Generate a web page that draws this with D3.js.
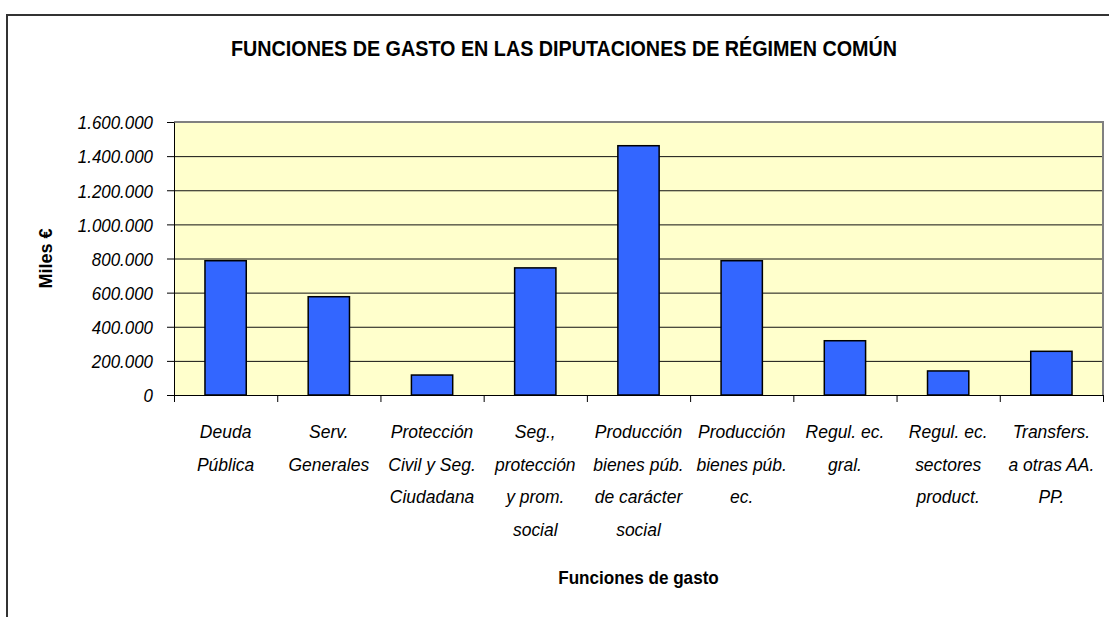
<!DOCTYPE html>
<html>
<head>
<meta charset="utf-8">
<script src="https://cdn.jsdelivr.net/npm/d3@7"></script>
<style>
  body { margin: 0; background: #fff; }
  svg { display: block; font-family: "Liberation Sans", Arial, sans-serif; }
</style>
</head>
<body>
<div id="chart"></div>
<script>
// data (miles de euros)
var categories = ["Deuda Pública", "Serv. Generales", "Protección Civil y Seg. Ciudadana",
    "Seg., protección y prom. social", "Producción bienes púb. de carácter social",
    "Producción bienes púb. ec.", "Regul. ec. gral.", "Regul. ec. sectores product.",
    "Transfers. a otras AA. PP."];
var labelLines = [["Deuda", "Pública"], ["Serv.", "Generales"], ["Protección", "Civil y Seg.", "Ciudadana"],
    ["Seg.,", "protección", "y prom.", "social"], ["Producción", "bienes púb.", "de carácter", "social"],
    ["Producción", "bienes púb.", "ec."], ["Regul. ec.", "gral."], ["Regul. ec.", "sectores", "product."],
    ["Transfers.", "a otras AA.", "PP."]];
var values = [787000, 576000, 117000, 745000, 1461000, 787000, 318000, 141000, 256000];
var yTicks = [0, 200000, 400000, 600000, 800000, 1000000, 1200000, 1400000, 1600000];

var title = "FUNCIONES DE GASTO EN LAS DIPUTACIONES DE RÉGIMEN COMÚN";
var xTitle = "Funciones de gasto";
var yTitle = "Miles €";

var W = 1109, H = 617;
var margin = {top: 122, right: 6, bottom: 222, left: 174},
    width = W - margin.left - margin.right,
    height = H - margin.top - margin.bottom;

// the original text is narrow and tall: squeeze glyphs sideways
function condense(sel, f) {
    sel.each(function() {
        var w = this.getComputedTextLength();
        d3.select(this).attr("textLength", w * f).attr("lengthAdjust", "spacingAndGlyphs");
    });
}

var svg = d3.select("#chart").append("svg")
    .attr("width", W)
    .attr("height", H);

// outer chart border (right and bottom run off the picture)
svg.append("rect")
    .attr("x", 7).attr("y", 15)
    .attr("width", W + 20).attr("height", H + 20)
    .attr("fill", "#fff")
    .attr("stroke", "#333")
    .attr("stroke-width", 2);

var es = d3.formatLocale({decimal: ",", thousands: ".", grouping: [3], currency: ["", " €"]});
var fmt = es.format(",d");

var x = d3.scaleBand()
    .domain(categories)
    .range([0, width])
    .paddingInner(0.6)
    .paddingOuter(0.3);

var xEdge = d3.scaleLinear().domain([0, categories.length]).range([0, width]);

var y = d3.scaleLinear()
    .domain([0, 1600000])
    .range([height, 0]);

var g = svg.append("g")
    .attr("transform", "translate(" + margin.left + "," + margin.top + ")");

// plot background
g.append("rect")
    .attr("width", width)
    .attr("height", height)
    .attr("fill", "#ffffcc");

// gridlines
g.append("g")
    .call(d3.axisLeft(y).tickValues(yTicks.slice(1, -1)).tickSize(-width).tickFormat(""))
    .call(function(s) { s.select(".domain").remove(); })
    .selectAll("line")
        .attr("stroke", "#111")
        .attr("stroke-width", 1);

// plot area frame: top and right in gray
g.append("path")
    .attr("d", "M0,0H" + width + "V" + height)
    .attr("fill", "none")
    .attr("stroke", "#808080")
    .attr("stroke-width", 2);

// bars
g.selectAll(".bar")
    .data(values)
    .enter()
    .append("rect")
        .attr("class", "bar")
        .attr("x", function(d, i) { return x(categories[i]); })
        .attr("width", x.bandwidth())
        .attr("y", function(d) { return y(d); })
        .attr("height", function(d) { return height - y(d); })
        .attr("fill", "#3366ff")
        .attr("stroke", "#000")
        .attr("stroke-width", 1.5);

// y axis
var yAxis = g.append("g")
    .call(d3.axisLeft(y).tickValues(yTicks).tickSize(7).tickSizeOuter(0).tickPadding(14).tickFormat(fmt));
yAxis.select(".domain").attr("stroke", "#000");
yAxis.selectAll("line").attr("stroke", "#000");
yAxis.selectAll("text")
    .attr("font-size", "19px")
    .attr("font-style", "italic")
    .attr("fill", "#000")
    .attr("dy", "0.36em")
    .attr("font-family", "Liberation Sans, Arial, sans-serif")
    .call(condense, 0.89);

// x axis: ticks between categories
var xAxis = g.append("g")
    .attr("transform", "translate(0," + height + ")")
    .call(d3.axisBottom(xEdge).tickValues(d3.range(categories.length + 1)).tickSize(7).tickSizeOuter(0).tickFormat(""));
xAxis.select(".domain").attr("stroke", "#000");
xAxis.selectAll("line").attr("stroke", "#000");

// category labels, one text per line
var lbl = g.append("g")
    .attr("font-size", "19px")
    .attr("font-style", "italic")
    .attr("text-anchor", "middle");
labelLines.forEach(function(lines, i) {
    var cx = x(categories[i]) + x.bandwidth() / 2;
    lines.forEach(function(line, j) {
        lbl.append("text")
            .attr("x", cx)
            .attr("y", height + 43 + j * 32.5)
            .text(line);
    });
});
lbl.selectAll("text").call(condense, 0.92);

// titles
svg.append("text")
    .attr("x", 564)
    .attr("y", 56)
    .attr("text-anchor", "middle")
    .attr("font-size", "22px")
    .attr("font-weight", "bold")
    .attr("textLength", 666)
    .attr("lengthAdjust", "spacingAndGlyphs")
    .text(title);

svg.append("text")
    .attr("x", margin.left + width / 2)
    .attr("y", 584)
    .attr("text-anchor", "middle")
    .attr("font-size", "19px")
    .attr("font-weight", "bold")
    .text(xTitle)
    .call(condense, 0.9);

svg.append("text")
    .attr("transform", "translate(52," + (margin.top + height / 2) + ") rotate(-90)")
    .attr("text-anchor", "middle")
    .attr("font-size", "19px")
    .attr("font-weight", "bold")
    .text(yTitle)
    .call(condense, 0.95);
</script>
</body>
</html>
